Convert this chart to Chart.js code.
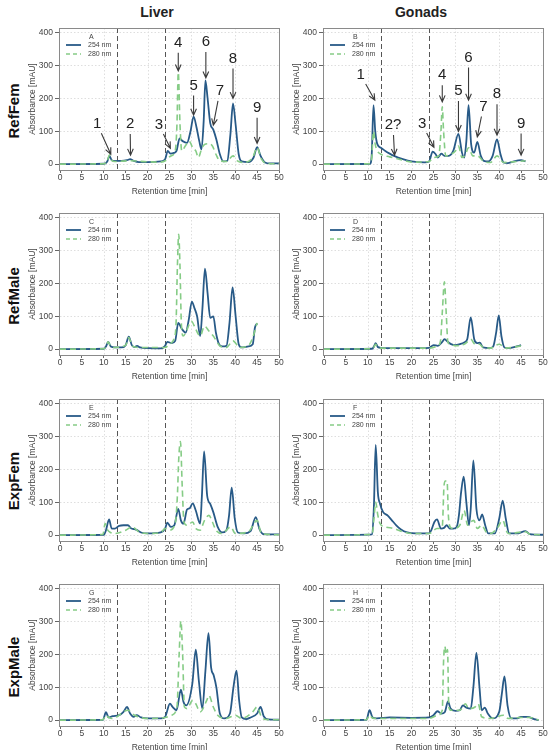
<!DOCTYPE html>
<html>
<head>
<meta charset="utf-8">
<script src="https://cdn.jsdelivr.net/npm/chart.js@4.4.0/dist/chart.umd.min.js"></script>
<style>
body{margin:0;background:#fff;width:555px;height:750px;overflow:hidden;position:relative;font-family:"Liberation Sans",Arial,sans-serif}
canvas{position:absolute}
.col{position:absolute;top:4px;font-weight:bold;font-size:14px;color:#222;transform:translateX(-50%)}
.row{position:absolute;left:13px;font-weight:bold;font-size:15px;color:#111;transform:translate(-50%,-50%) rotate(-90deg);white-space:nowrap}
</style>
</head>
<body>
<div class="col" style="left:157px">Liver</div>
<div class="col" style="left:421px">Gonads</div>
<div class="row" style="top:111px">RefFem</div>
<div class="row" style="top:296px">RefMale</div>
<div class="row" style="top:481px">ExpFem</div>
<div class="row" style="top:667px">ExpMale</div>
<script>
// tick labels and fraction cut marks
const xTicks = [0, 5, 10, 15, 20, 25, 30, 35, 40, 45, 50];
const yTicks = [0, 100, 200, 300, 400];
const xGridAt = [10, 20, 30, 40];
const cutTimes = [13, 24];

// A: Liver RefFem
const tA254 = [0,10,10.8,11.3,11.8,12.5,14,15.3,16,16.8,18,20,23,24,24.6,25.2,26,26.6,27.3,28,29,29.8,30.5,31.2,31.8,32.3,32.8,33.2,33.7,34.3,35,35.7,36.5,37.3,38.2,38.9,39.5,40.1,40.8,41.5,43,44.2,45,45.8,46.8,48,50];
const yA254 = [0,1,8,25,12,10,10,12,15,10,6,6,8,15,40,32,34,40,78,70,65,100,145,110,70,45,130,255,200,125,105,75,30,8,10,90,185,120,30,8,6,20,52,25,5,2,2];
const tA280 = [0,10,10.8,11.3,11.8,12.5,16,20,23,24.3,25.3,26.3,26.7,27,27.4,27.8,28.6,29.5,30.3,31,31.6,32.3,33,34,34.8,35.6,36.5,38,39.5,40.5,42,44,45,46,47,50];
const yA280 = [0,1,10,28,12,8,10,7,6,12,25,40,120,280,120,40,55,70,50,40,20,45,60,62,55,30,10,8,25,10,5,20,50,15,3,1];

// B: Gonads RefFem
const tB254 = [0,10.5,10.9,11.3,11.7,12.2,13,14,15,16,18,20,23,24,24.8,25.5,26,26.8,27.5,28.5,29.5,30.7,31.5,32,32.5,33,33.6,34.3,35,35.8,36.5,37.5,38.5,39.5,40.3,41,42,43,45,46];
const yB254 = [0,1,30,180,100,60,50,40,32,25,15,8,5,8,38,30,20,32,25,25,40,92,35,20,70,180,60,35,68,25,10,8,25,75,30,5,3,7,12,8];
const tB280 = [0,10.5,10.9,11.3,11.7,12.2,13,15,18,20,24,25,26.2,26.7,27,27.3,27.8,29,30,30.7,31.5,32.3,33,34,35,36.5,38,39.5,41,44,46];
const yB280 = [0,1,20,100,60,40,30,22,12,6,8,20,25,100,175,100,25,30,40,55,20,30,50,25,25,8,5,25,5,8,10];

// C: Liver RefMale
const tC254 = [0,10,10.5,11,11.6,12.5,14,15,15.7,16.4,17,17.6,18.3,20,23,24,24.5,25.5,26.3,27,27.8,28.7,29.4,30.1,30.7,31.3,32,32.5,33.1,33.7,34.3,35,35.6,36.3,37,38,38.7,39.4,40.1,40.8,41.5,43,44,44.5,45];
const yC254 = [0,1,8,22,8,5,5,12,38,12,6,10,5,3,2,10,22,18,25,80,62,50,90,145,125,100,40,120,245,170,95,100,50,15,8,10,80,188,100,15,5,8,15,65,78];
const tC280 = [0,10,10.5,11,11.6,12.5,15,15.7,16.5,18,24,25,26,26.5,26.8,27.1,27.4,27.7,28.1,28.7,30,31,32,33,34,35,36.5,38,39.5,41,43,44,45];
const yC280 = [0,1,8,22,8,5,12,35,10,5,5,15,30,80,250,350,250,80,40,50,85,60,40,70,55,40,10,5,25,5,10,35,80];

// D: Gonads RefMale
const tD254 = [0,11,11.4,11.8,12.3,13,20,24,25,26,27,27.5,28.3,29,30,31,32,32.7,33.5,34.3,35,35.6,36.3,38,38.7,39.3,39.9,40.5,41.2,42,44,45];
const yD254 = [0,1,8,18,6,4,3,4,12,10,22,30,22,15,12,15,20,30,97,30,18,20,5,3,10,50,103,40,5,3,8,12];
const tD280 = [0,11,11.4,11.8,12.3,13,24,26,26.6,27,27.5,27.9,28.3,29,30,32,33,33.5,34.5,35.5,36.3,38,40,41.5,43,45];
const yD280 = [0,1,6,15,5,3,3,10,25,110,205,110,20,15,10,15,25,30,15,15,5,3,15,3,5,10];

// E: Liver ExpFem
const tE254 = [0,10,10.5,11.2,11.8,12.5,13.5,14.5,15.5,16.3,17,17.6,18.5,20,23,24,24.5,25.3,26.1,27,27.6,28.2,29,29.6,30.3,31,32,32.4,32.9,33.6,34.3,35,36,37,38,38.6,39.2,39.9,40.6,42,43.5,44.7,45.5,46.5,50];
const yE254 = [0,1,15,48,20,20,28,30,30,20,18,15,8,5,8,20,38,25,30,80,45,35,78,82,97,75,35,120,255,120,95,70,25,8,15,60,145,50,8,5,12,55,20,3,2];
const tE280 = [0,9.8,10.3,10.9,11.5,12.5,15,16.5,18,20,23,24,25,26.3,26.8,27.1,27.5,27.9,28.3,29,30.3,31,32,33,34,34.8,35.6,37,39,40,43,45,46,50];
const yE280 = [0,2,35,15,8,5,15,25,10,5,8,20,15,35,120,230,285,150,40,30,40,20,15,45,60,40,15,5,25,5,10,45,5,1];

// F: Gonads ExpFem
const tF254 = [0,11,11.4,11.8,12.3,12.8,13.5,14.5,15.5,16.5,17.5,19,21,24,24.5,25.2,25.8,26.7,27.4,28,28.7,29.5,30.3,30.8,31.3,31.9,32.5,33.1,33.5,34.1,34.8,35.5,36.1,36.8,37.5,39,40,40.8,41.5,42.3,44,46,47,50];
const yF254 = [0,2,90,275,130,95,70,60,45,30,18,8,5,5,15,40,48,20,22,30,20,20,25,60,130,178,100,30,80,228,80,45,63,30,5,5,50,105,50,5,5,12,3,1];
const tF280 = [0,11,11.4,11.8,12.3,12.8,14,16,18,20,24,25.8,27,27.4,27.7,28.1,28.4,28.8,29.5,31,32,32.8,33.5,34.2,35,36,37,38,39.5,40.8,42,46,47,50];
const yF280 = [0,2,50,100,60,35,25,20,10,5,5,20,25,150,165,165,60,25,20,30,75,30,40,45,20,30,10,5,20,45,5,10,3,1];

// G: Liver ExpMale
const tG254 = [0,9.8,10.5,11.1,12,13.5,14.5,15.3,16,16.8,17.5,18.5,20,23,24,25.1,25.7,26.6,27.6,28.2,28.8,30.2,31,31.7,32.5,33.2,33.9,34.5,35.1,35.7,36.5,37.5,38.8,39.6,40.3,40.9,41.5,42.5,43.5,45,45.8,46.5,47.5,50];
const yG254 = [0,1,24,8,12,15,25,40,20,10,15,8,5,5,10,50,40,30,93,55,45,110,215,120,35,150,265,160,136,100,20,5,20,100,151,60,8,3,8,20,40,12,2,1];
const tG280 = [0,9.8,10.5,11.1,12,15.5,17,20,24,25.5,26.7,27.2,27.6,28,28.4,29,30.3,31,32,33.5,34,35,36,38,40,41.5,44,45,46,47,50];
const yG280 = [0,1,15,8,5,30,15,5,8,15,40,200,302,200,40,35,60,50,25,60,75,40,15,5,15,5,25,40,10,2,1];

// H: Gonads ExpMale
const tH254 = [0,9.7,10.4,11.1,12,15,20,24,25,25.9,26.8,27.6,28.3,28.9,30,31,31.7,32.5,33.5,34.1,34.8,35.5,36,36.7,37.4,38.5,40,40.6,41.2,41.9,42.8,44,45,46.5,48,49];
const yH254 = [0,1,30,8,5,8,7,8,15,27,20,25,57,35,28,30,45,38,35,100,205,100,30,38,20,5,25,80,133,45,5,5,10,10,3,0];
const tH280 = [0,9.7,10.4,11.1,12,24,26,27,27.3,27.6,27.9,28.2,28.5,29,31,32.3,33,34.5,35.2,36,38,41,42,45,47,49];
const yH280 = [0,1,15,6,5,5,15,30,180,225,200,215,40,30,30,50,35,40,50,10,5,15,5,8,8,0];

// peak labels (panels A and B): text position and arrow tip, in data units
const annA_text = ['1','2','3','4','5','6','7','8','9'];
const annA_x    = [8.5,16,22.6,27,30.5,33.3,36.5,39.5,45];
const annA_y    = [122,122,119,370,240,372,223,322,172];
const annA_tipX = [11.6,16.1,25.2,27,30.5,33.3,35,39.5,45];
const annA_tipY = [30,27,48,284,149,263,119,200,63];

const annB_text = ['1','2?','3','4','5','6','7','8','9'];
const annB_x    = [8.4,15.75,22.4,27,30.7,33,36.4,39.5,45];
const annB_y    = [271,119,122,271,223,325,175,213,124];
const annB_tipX = [11.6,16.1,25.1,27,30.7,33,35,39.5,45];
const annB_tipY = [195,27,51,190,100,195,83,88,27];

const blue = '#285a87';
const green = '#86cc86';
const gridCol = '#dedede';
const FONT = '"Liberation Sans", Arial, sans-serif';
Chart.defaults.font.family = FONT;

function pts(t, v) {
  return t.map((x, i) => ({x: x, y: v[i]}));
}

function arrow(ctx, x0, y0, x1, y1) {
  const ang = Math.atan2(y1 - y0, x1 - x0), h = 7;
  ctx.beginPath();
  ctx.moveTo(x0, y0);
  ctx.lineTo(x1, y1);
  ctx.moveTo(x1 - h * Math.cos(ang - 0.42), y1 - h * Math.sin(ang - 0.42));
  ctx.lineTo(x1, y1);
  ctx.lineTo(x1 - h * Math.cos(ang + 0.42), y1 - h * Math.sin(ang + 0.42));
  ctx.stroke();
}

const panelDeco = {
  id: 'panelDeco',
  beforeDatasetsDraw(chart) {
    const {ctx, chartArea: a, scales: {x}} = chart;
    ctx.save();
    // light dotted vertical grid, every 10 min
    ctx.strokeStyle = gridCol;
    ctx.lineWidth = 1;
    ctx.setLineDash([1.5, 2]);
    xGridAt.forEach(t => {
      const px = Math.round(x.getPixelForValue(t)) + 0.5;
      ctx.beginPath();
      ctx.moveTo(px, a.top);
      ctx.lineTo(px, a.bottom);
      ctx.stroke();
    });
    // fraction cuts
    ctx.strokeStyle = '#555';
    ctx.setLineDash([5, 3]);
    cutTimes.forEach(t => {
      const px = Math.round(x.getPixelForValue(t)) + 0.5;
      ctx.beginPath();
      ctx.moveTo(px, a.top);
      ctx.lineTo(px, a.bottom);
      ctx.stroke();
    });
    ctx.restore();
  },
  afterDatasetsDraw(chart, args, opts) {
    const {ctx, chartArea: a, scales: {x, y}} = chart;
    ctx.save();
    // box
    ctx.strokeStyle = '#8a8a8a';
    ctx.lineWidth = 1;
    ctx.strokeRect(Math.round(a.left) - 0.5, Math.round(a.top) + 0.5, Math.round(a.right - a.left) + 1, Math.round(a.bottom - a.top));
    // legend
    const lx = a.left, ly = a.top;
    ctx.font = '7px ' + FONT;
    ctx.fillStyle = '#444';
    ctx.textBaseline = 'middle';
    ctx.fillText(opts.letter, lx + 29, ly + 9);
    ctx.fillText('254 nm', lx + 28, ly + 17);
    ctx.fillText('280 nm', lx + 28, ly + 26);
    ctx.strokeStyle = blue;
    ctx.lineWidth = 1.8;
    ctx.beginPath(); ctx.moveTo(lx + 6, ly + 17); ctx.lineTo(lx + 21, ly + 17); ctx.stroke();
    ctx.strokeStyle = green;
    ctx.lineWidth = 1.6;
    ctx.setLineDash([4, 3]);
    ctx.beginPath(); ctx.moveTo(lx + 6, ly + 26); ctx.lineTo(lx + 21, ly + 26); ctx.stroke();
    ctx.setLineDash([]);
    // peak numbers + arrows
    const n = opts.notes;
    if (n) {
      ctx.font = '15px ' + FONT;
      ctx.textAlign = 'center';
      ctx.fillStyle = '#222';
      ctx.strokeStyle = '#3a3a3a';
      ctx.lineWidth = 1.1;
      n.text.forEach((s, i) => {
        const px = x.getPixelForValue(n.x[i]), py = y.getPixelForValue(n.y[i]);
        const qx = x.getPixelForValue(n.tipX[i]), qy = y.getPixelForValue(n.tipY[i]);
        ctx.fillText(s, px, py);
        const d = Math.hypot(qx - px, qy - py);
        arrow(ctx, px + (qx - px) * 10 / d, py + (qy - py) * 10 / d, qx, qy);
      });
    }
    ctx.restore();
  }
};

const panels = [
  {letter: 'A', col: 0, row: 0, t254: tA254, y254: yA254, t280: tA280, y280: yA280,
   notes: {text: annA_text, x: annA_x, y: annA_y, tipX: annA_tipX, tipY: annA_tipY}},
  {letter: 'B', col: 1, row: 0, t254: tB254, y254: yB254, t280: tB280, y280: yB280,
   notes: {text: annB_text, x: annB_x, y: annB_y, tipX: annB_tipX, tipY: annB_tipY}},
  {letter: 'C', col: 0, row: 1, t254: tC254, y254: yC254, t280: tC280, y280: yC280},
  {letter: 'D', col: 1, row: 1, t254: tD254, y254: yD254, t280: tD280, y280: yD280},
  {letter: 'E', col: 0, row: 2, t254: tE254, y254: yE254, t280: tE280, y280: yE280},
  {letter: 'F', col: 1, row: 2, t254: tF254, y254: yF254, t280: tF280, y280: yF280},
  {letter: 'G', col: 0, row: 3, t254: tG254, y254: yG254, t280: tG280, y280: yG280},
  {letter: 'H', col: 1, row: 3, t254: tH254, y254: yH254, t280: tH280, y280: yH280}
];

const colLeft = [20, 284];
const rowTop = [20, 205, 391, 576];

panels.forEach(p => {
  const c = document.createElement('canvas');
  c.width = 265;
  c.height = 177;
  c.style.left = colLeft[p.col] + 'px';
  c.style.top = rowTop[p.row] + 'px';
  document.body.appendChild(c);

  new Chart(c, {
    type: 'line',
    data: {
      datasets: [
        {label: '254 nm', data: pts(p.t254, p.y254), borderColor: blue, borderWidth: 1.8,
         pointRadius: 0, cubicInterpolationMode: 'monotone', order: 2},
        {label: '280 nm', data: pts(p.t280, p.y280), borderColor: green, borderWidth: 1.6,
         borderDash: [6, 4], pointRadius: 0, cubicInterpolationMode: 'monotone', order: 1}
      ]
    },
    options: {
      responsive: false,
      animation: false,
      events: [],
      layout: {padding: {top: 8, right: 6, left: 0, bottom: 0}},
      plugins: {
        legend: {display: false},
        tooltip: {enabled: false},
        panelDeco: {letter: p.letter, notes: p.notes}
      },
      scales: {
        x: {
          type: 'linear', min: 0, max: 50,
          afterBuildTicks: s => { s.ticks = xTicks.map(v => ({value: v})); },
          afterFit: s => { s.height = 27; },
          ticks: {font: {size: 8.5}, color: '#444', padding: 0, maxRotation: 0, autoSkip: false},
          grid: {drawOnChartArea: false, tickColor: '#666', tickLength: 3},
          border: {display: false},
          title: {display: true, text: 'Retention time [min]', font: {size: 8.5}, color: '#444',
                  padding: {top: 0, bottom: 0}}
        },
        y: {
          min: -18, max: 415,
          afterBuildTicks: s => { s.ticks = yTicks.map(v => ({value: v})); },
          afterFit: s => { s.width = 40; },
          ticks: {font: {size: 8.5}, color: '#444', padding: 2},
          grid: {color: gridCol, tickColor: '#666', tickLength: 5},
          border: {display: false, dash: [1.5, 2]},
          title: {display: true, text: 'Absorbance [mAU]', font: {size: 8.5}, color: '#444',
                  padding: {top: 8, bottom: 0}}
        }
      }
    },
    plugins: [panelDeco]
  });
});
</script>
</body>
</html>
